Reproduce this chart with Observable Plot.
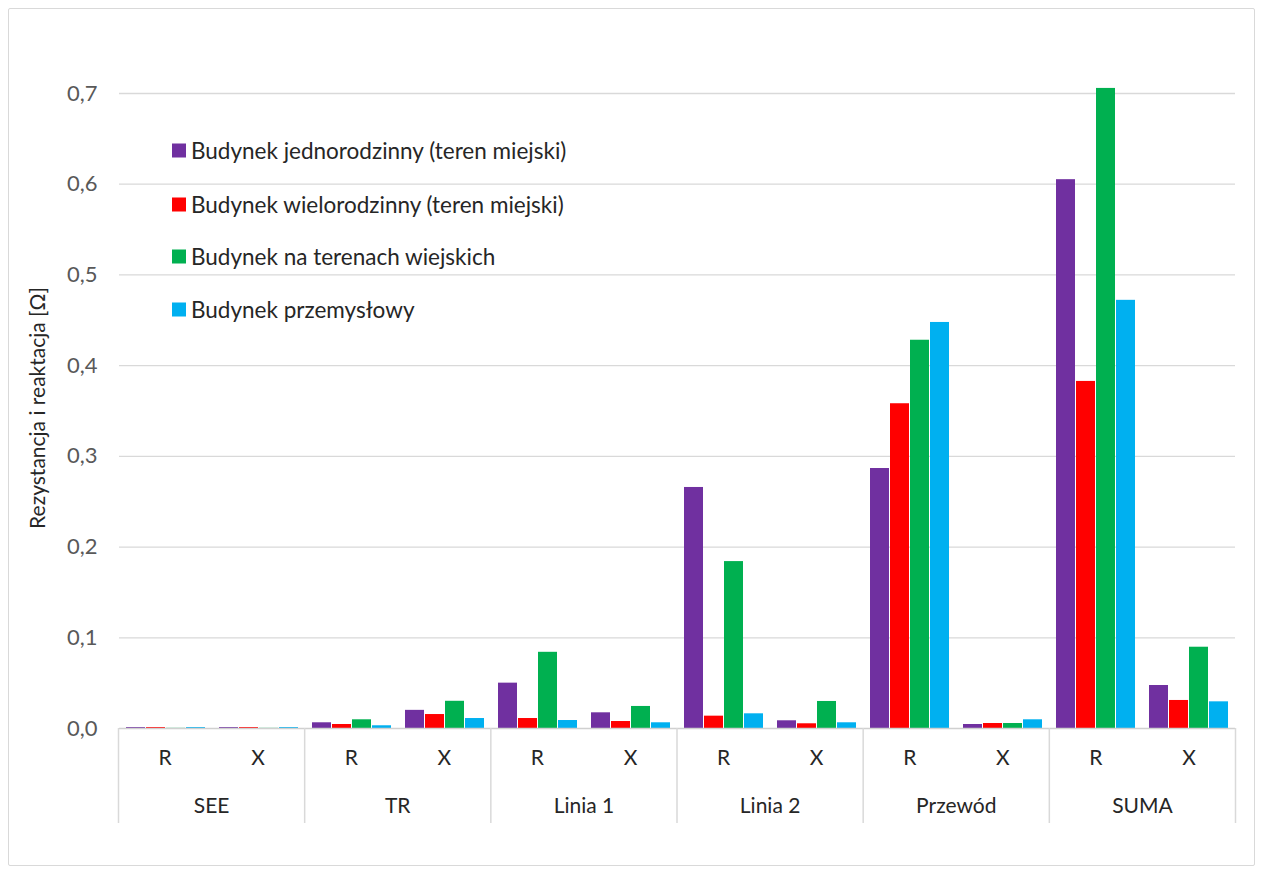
<!DOCTYPE html>
<html>
<head>
<meta charset="utf-8">
<script src="https://cdn.jsdelivr.net/npm/d3@7"></script>
<script src="https://cdn.jsdelivr.net/npm/@observablehq/plot@0.6"></script>
<style>
  html, body { margin: 0; padding: 0; background: #fff; }
  #wrap { position: relative; width: 1263px; height: 873px; font-family: Lato, "Open Sans", sans-serif; overflow: hidden; }
  #frame { position: absolute; left: 8px; top: 8px; width: 1247px; height: 858px; border: 1px solid #d9d9d9; box-sizing: border-box; border-radius: 2px; }
  #main, #strip { position: absolute; left: 0; }
  #main { top: 0; }
  #strip { top: 728px; }
  #ytitle { position: absolute; left: 36px; top: 408px; transform: translate(-50%, -50%) rotate(-90deg); white-space: nowrap; font-size: 21px; color: #262626; }
  #legend { position: absolute; left: 172px; top: 0; font-size: 22.5px; color: #262626; }
  .lg { position: absolute; left: 0; display: flex; align-items: center; white-space: nowrap; transform: translateY(-50%); }
  .sw { width: 14px; height: 14px; margin-right: 5px; }
</style>
</head>
<body>
<div id="wrap">
  <div id="frame"></div>
  <div id="main"></div>
  <div id="strip"></div>
  <div id="ytitle">Rezystancja i reaktacja [Ω]</div>
  <div id="legend"></div>
</div>
<script>
// ---- data ----
const groups = ["SEE", "TR", "Linia 1", "Linia 2", "Przewód", "SUMA"];
const subs = ["R", "X"];
const seriesNames = [
  "Budynek jednorodzinny (teren miejski)",
  "Budynek wielorodzinny (teren miejski)",
  "Budynek na terenach wiejskich",
  "Budynek przemysłowy"
];
const seriesColors = ["#7030A0", "#FF0000", "#00B050", "#00B0F0"];
// values in slot order: SEE R, SEE X, TR R, TR X, Linia 1 R, Linia 1 X, Linia 2 R, Linia 2 X, Przewód R, Przewód X, SUMA R, SUMA X
const jednorodzinny = [0.001, 0.001, 0.0063, 0.020, 0.050, 0.0173, 0.2657, 0.0085, 0.2866, 0.0044, 0.605, 0.0474];
const wielorodzinny = [0.001, 0.001, 0.0044, 0.0154, 0.011, 0.0077, 0.0136, 0.0052, 0.358, 0.0055, 0.3826, 0.0309];
const wiejskie      = [0.0002, 0.0002, 0.0096, 0.030, 0.084, 0.0243, 0.184, 0.0298, 0.428, 0.0055, 0.7056, 0.0896];
const przemyslowy   = [0.001, 0.001, 0.003, 0.011, 0.0088, 0.0063, 0.0162, 0.0063, 0.4476, 0.0096, 0.472, 0.0294];
const yTicks = [0, 0.1, 0.2, 0.3, 0.4, 0.5, 0.6, 0.7];

// ---- build tables ----
const seriesValues = [jednorodzinny, wielorodzinny, wiejskie, przemyslowy];
const slots = [];
groups.forEach(g => subs.forEach(s => slots.push({key: g + "|" + s, group: g, sub: s})));
const slotKeys = slots.map(d => d.key);
const rows = [];
slots.forEach((s, i) => seriesNames.forEach((name, j) => rows.push({slot: s.key, series: name, value: seriesValues[j][i]})));

const W = 1263, ML = 118, MR = 28;
const font = "Lato, 'Open Sans', sans-serif";

const main = Plot.plot({
  width: W, height: 729,
  marginLeft: ML, marginRight: MR, marginTop: 93, marginBottom: 1,
  style: {background: "transparent", fontFamily: font, overflow: "visible"},
  fx: {domain: slotKeys, padding: 0, axis: null},
  x: {domain: seriesNames, paddingInner: 0.05, paddingOuter: 0.3, axis: null},
  y: {domain: [0, 0.7], axis: null},
  color: {domain: seriesNames, range: seriesColors},
  marks: [
    Plot.ruleY(yTicks.slice(1), {stroke: "#d9d9d9", strokeWidth: 1.3}),
    Plot.axisY(yTicks, {tickSize: 0, tickPadding: 22, fontSize: 22, fill: "#595959", tickFormat: d => d.toFixed(1).replace(".", ","), label: null}),
    Plot.barY(rows, {fx: "slot", x: "series", y: "value", fill: "series"}),
    Plot.ruleY([0], {stroke: "#d0d0d0", strokeWidth: 1.5})
  ]
});
document.getElementById("main").appendChild(main);

const boundaries = groups.map((g, i) => i * subs.length).concat([groups.length * subs.length]);
const strip = Plot.plot({
  width: W, height: 115,
  marginLeft: ML, marginRight: MR, marginTop: 0, marginBottom: 20,
  style: {background: "transparent", fontFamily: font, overflow: "visible"},
  x: {domain: [0, slots.length], axis: null},
  y: {domain: [0, 1], axis: null},
  marks: [
    Plot.ruleX(boundaries, {stroke: "#d9d9d9", strokeWidth: 1.5}),
    Plot.text(slots, {x: (d, i) => i + 0.5, text: "sub", frameAnchor: "top", lineAnchor: "middle", dy: 30, fontSize: 21, fill: "#262626"}),
    Plot.text(groups, {x: (d, i) => i * subs.length + subs.length / 2, text: d => d, frameAnchor: "top", lineAnchor: "middle", dy: 78, fontSize: 21, fill: "#262626"})
  ]
});
document.getElementById("strip").appendChild(strip);

// legend (inside plot area)
const legendY = [150, 204, 256, 309];
const legend = document.getElementById("legend");
seriesNames.forEach((name, i) => {
  const row = document.createElement("div");
  row.className = "lg";
  row.style.top = legendY[i] + "px";
  const sw = document.createElement("span");
  sw.className = "sw";
  sw.style.background = seriesColors[i];
  const tx = document.createElement("span");
  tx.textContent = name;
  row.appendChild(sw); row.appendChild(tx);
  legend.appendChild(row);
});
</script>
</body>
</html>
